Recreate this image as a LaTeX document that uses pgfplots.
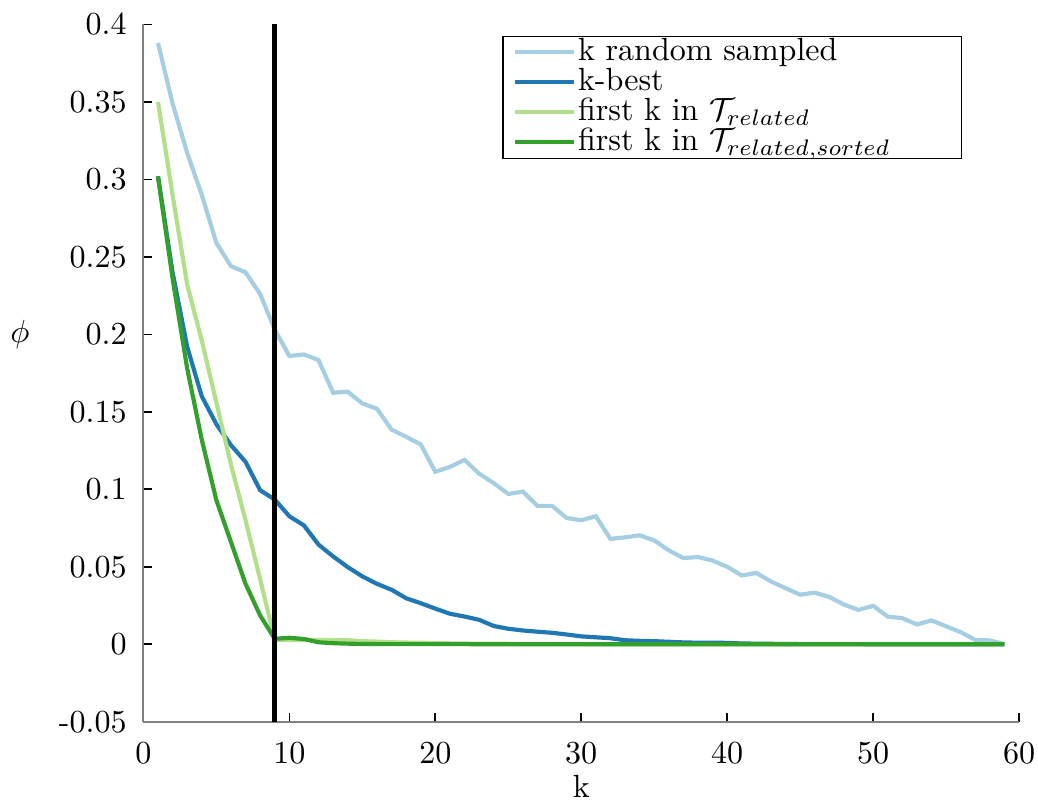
\documentclass[border=0pt]{standalone}
\usepackage{pgfplots}
\usepackage{pgfplotstable}
\pgfplotsset{compat=1.18}
\definecolor{c1}{RGB}{166,206,227}
\definecolor{c2}{RGB}{31,120,180}
\definecolor{c3}{RGB}{178,223,138}
\definecolor{c4}{RGB}{51,160,44}
\newcommand{\LE}[1]{\makebox[116pt][l]{\rule[-2.4pt]{0pt}{9.26pt}\smash{#1}}}
\pgfplotstableread{
k rnd best rel sorted
1 0.388 0.302 0.350 0.302
2 0.349 0.240 0.290 0.236
3 0.317 0.192 0.232 0.178
4 0.290 0.160 0.196 0.132
5 0.259 0.142 0.156 0.093
6 0.244 0.1285 0.116 0.066
7 0.240 0.1177 0.080 0.039
8 0.226 0.0994 0.042 0.0186
9 0.203 0.0934 0.003 0.0035
10 0.186 0.0826 0.0028 0.0042
11 0.187 0.0767 0.0028 0.0034
12 0.1834 0.0643 0.0027 0.0013
13 0.1623 0.0567 0.0027 0.0007
14 0.163 0.0498 0.0026 0.0004
15 0.1554 0.0438 0.0020 0.0002
16 0.152 0.0390 0.0017 0.0001
17 0.1386 0.0352 0.0013 0.0001
18 0.1339 0.0297 0.0011 0.0001
19 0.1290 0.0265 0.0010 0.0001
20 0.1113 0.0230 0.0008 0.0001
21 0.1144 0.0197 0.0006 0.0001
22 0.1190 0.0179 0.0005 0.0001
23 0.1101 0.0158 0.0003 0.0
24 0.1040 0.0118 0.0003 0.0
25 0.0970 0.0100 0.0003 0.0
26 0.0985 0.0089 0.0001 0.0
27 0.0893 0.0081 0.0001 0.0
28 0.0893 0.0074 0.0001 0.0
29 0.0815 0.0063 0.0001 0.0
30 0.0800 0.0051 0.0001 0.0
31 0.0826 0.0045 0.0 0.0
32 0.0680 0.0039 0.0 0.0
33 0.0690 0.0026 0.0 0.0
34 0.0703 0.0022 0.0 0.0
35 0.0670 0.0020 0.0 0.0
36 0.0606 0.0016 0.0 0.0
37 0.0556 0.0012 0.0 0.0
38 0.0563 0.0010 0.0 0.0
39 0.0540 0.0010 0.0 0.0
40 0.0500 0.0009 0.0 0.0
41 0.0444 0.0005 0.0 0.0
42 0.0460 0.0004 0.0 0.0
43 0.0405 0.0003 0.0 0.0
44 0.0362 0.0002 0.0 0.0
45 0.0320 0.0001 0.0 0.0
46 0.0333 0.0001 0.0 0.0
47 0.0305 0.0001 0.0 0.0
48 0.0256 0.0001 0.0 0.0
49 0.0222 0.0001 0.0 0.0
50 0.0248 0.0 0.0 0.0
51 0.0179 0.0 0.0 0.0
52 0.0168 0.0 0.0 0.0
53 0.0128 0.0 0.0 0.0
54 0.0154 0.0 0.0 0.0
55 0.0116 0.0 0.0 0.0
56 0.0078 0.0 0.0 0.0
57 0.0028 0.0 0.0 0.0
58 0.0025 0.0 0.0 0.0
59 0.0 0.0 0.0 0.0
}\data
\begin{document}
\begin{tikzpicture}
\begin{axis}[
  name=ax,
  scale only axis,
  width=273pt, height=217.4pt,
  xmin=0, xmax=60, ymin=-0.05, ymax=0.4,
  axis x line*=bottom, axis y line*=left,
  axis line style={gray, line width=0.6pt},
  tick style={black, line width=0.5pt},
  major tick length=2.7pt,
  xtick={0,10,...,60},
  ytick={-0.05,0,0.05,0.1,0.15,0.2,0.25,0.3,0.35,0.4},
  yticklabels={-0.05,0,0.05,0.1,0.15,0.2,0.25,0.3,0.35,0.4},
  yticklabel style={xshift=-1.7pt},
  xticklabel style={yshift=-2.9pt},
  xlabel={k},
  ylabel={$\phi$},
  every axis x label/.style={at={(rel axis cs:0.5,0)}, anchor=north, yshift=-13.2pt},
  every axis y label/.style={at={(rel axis cs:0,0.556)}, anchor=center, xshift=-38.5pt},
  legend cell align=left,
  legend style={at={(rel axis cs:0.935,0.984)}, anchor=north east, draw=black, line width=0.5pt,
    nodes={inner sep=0.5pt}, row sep=0pt,
    inner xsep=3pt, inner ysep=0.3pt},
  legend image code/.code={\draw[#1, line width=1.3pt] (0pt,0pt) -- (18.5pt,0pt);},
  every axis plot/.append style={line width=1.3pt},
]
\addplot[c1] table[x=k,y=rnd] {\data};
\addlegendentry{\LE{k random sampled}}
\addplot[c2] table[x=k,y=best] {\data};
\addlegendentry{\LE{k-best}}
\addplot[c3] table[x=k,y=rel] {\data};
\addlegendentry{\LE{first k in $\mathcal{T}_{related}$}}
\addplot[c4] table[x=k,y=sorted] {\data};
\addlegendentry{\LE{first k in $\mathcal{T}_{related,sorted}$}}
\addplot[black, line width=1.5pt, forget plot] coordinates {(9,-0.05) (9,0.4)};
\end{axis}
\pgfresetboundingbox
\path ([xshift=-44.7pt,yshift=-24.3pt]ax.south west) rectangle ([xshift=5.9pt,yshift=7.6pt]ax.north east);
\end{tikzpicture}
\end{document}
